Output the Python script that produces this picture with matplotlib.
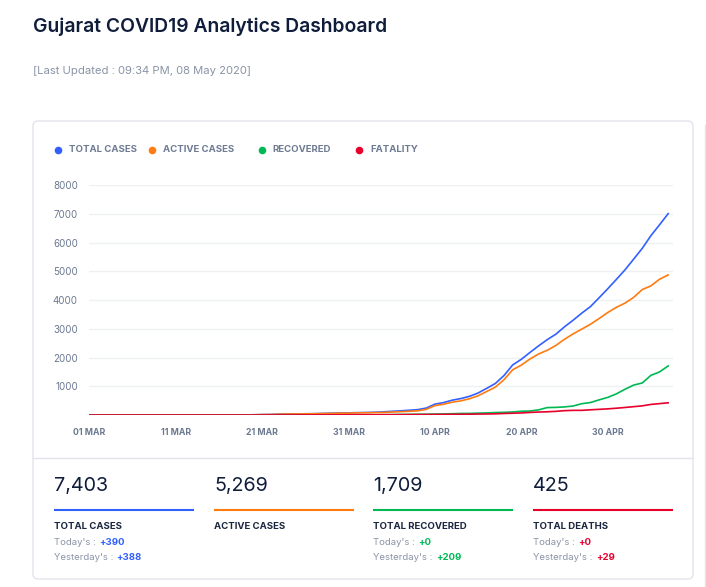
import matplotlib
matplotlib.use("Agg")
import matplotlib.pyplot as plt
from matplotlib.patches import FancyBboxPatch
import numpy as np

# ---------------- data ----------------
start_label = ["01 MAR", "11 MAR", "21 MAR", "31 MAR", "10 APR", "20 APR", "30 APR"]
tick_days = [0, 10, 20, 30, 40, 50, 60]

total_cases = [0]*18 + [
    2, 7, 14, 18, 30, 35, 38, 43, 47, 55, 63, 69, 73,
    82, 87, 95, 108, 128, 144, 165, 186, 241, 378, 432, 516, 572, 650, 766,
    929, 1099, 1376, 1743, 1939, 2178, 2407, 2624, 2815, 3071, 3301, 3548,
    3774, 4082, 4395,
    4721, 5054, 5428, 5804, 6245, 6625, 7013]
active_cases = [0]*18 + [
    2, 7, 14, 17, 29, 34, 36, 39, 42, 49, 57, 62, 66,
    74, 78, 82, 88, 103, 114, 129, 145, 198, 326, 374, 447, 492, 566, 669,
    820, 972, 1230, 1575, 1737, 1949, 2125, 2254, 2423, 2638, 2826, 2992,
    3159, 3358, 3568,
    3750, 3896, 4096, 4370, 4496, 4729, 4879]
recovered = [0]*18 + [
    0, 0, 0, 0, 0, 0, 0, 1, 1, 1, 1, 1, 1,
    1, 2, 5, 10, 14, 18, 22, 25, 26, 33, 36, 44, 54, 56, 64,
    73, 86, 93, 105, 131, 139, 179, 258, 265, 282, 313, 394,
    434, 527, 613,
    735, 896, 1042, 1115, 1381, 1500, 1709]
fatality = [0]*18 + [
    0, 0, 0, 1, 1, 1, 2, 3, 4, 5, 5, 6, 6,
    7, 7, 8, 10, 11, 12, 14, 16, 17, 19, 22, 25, 26, 28, 33,
    36, 41, 53, 63, 71, 90, 103, 112, 127, 151, 162, 162,
    181, 197, 214,
    236, 262, 290, 319, 368, 396, 425]

series_names = ["TOTAL CASES", "ACTIVE CASES", "RECOVERED", "FATALITY"]
series_colors = ["#3160ff", "#ff7b0f", "#00b955", "#e8002d"]

stat_values = ["7,403", "5,269", "1,709", "425"]
stat_labels = ["TOTAL CASES", "ACTIVE CASES", "TOTAL RECOVERED", "TOTAL DEATHS"]
stat_today = ["+390", None, "+0", "+0"]
stat_yesterday = ["+388", None, "+209", "+29"]

y_ticks = [1000, 2000, 3000, 4000, 5000, 6000, 7000, 8000]

# ---------------- figure ----------------
W, H = 706, 587
fig = plt.figure(figsize=(W/100, H/100), dpi=100)
fig.patch.set_facecolor("white")

bg = fig.add_axes([0, 0, 1, 1])
bg.set_xlim(0, W)
bg.set_ylim(H, 0)
bg.axis("off")

FONT = ["Inter", "DejaVu Sans"]
NAVY = "#0f1d3b"
GRAY = "#8a94a6"

bg.text(33, 27, "Gujarat COVID19 Analytics Dashboard", fontsize=13.9,
        fontweight="semibold", color=NAVY, va="center", ha="left", family=FONT)
bg.text(33, 71, "[Last Updated : 09:34 PM, 08 May 2020]", fontsize=8.1,
        color=GRAY, va="center", ha="left", family=FONT)

# card
card = FancyBboxPatch((33, 121), 660, 458, boxstyle="round,pad=0,rounding_size=5",
                      fc="white", ec="#e1e4ec", lw=1.0)
bg.add_patch(card)
bg.plot([33, 693], [457.5, 457.5], color="#e1e4ec", lw=1.0)
# neighbouring card edge
bg.plot([705, 705], [125, 587], color="#e1e4ec", lw=1.0)

# legend
dot_x = [57.7, 151.7, 261.7, 358.7]
txt_x = [69.3, 162.7, 272.3, 370]
for dx, tx, name, col in zip(dot_x, txt_x, series_names, series_colors):
    bg.scatter([dx], [149.5], s=20, color=col, zorder=3)
    bg.text(tx, 149.5, name, fontsize=6.9, fontweight="bold", color="#6e7b93",
            va="center", ha="left", family=FONT)

# stats
col_x = [54, 214, 373.3, 533.3]
for i, cx in enumerate(col_x):
    bg.text(cx, 486, stat_values[i], fontsize=14.2, color=NAVY,
            va="center", ha="left", family=FONT)
    bg.plot([cx, cx + 139.5], [510, 510], color=series_colors[i], lw=1.5,
            solid_capstyle="butt")
    bg.text(cx, 526.5, stat_labels[i], fontsize=6.9, fontweight="bold",
            color="#1b2740", va="center", ha="left", family=FONT)
    if stat_today[i] is not None:
        t1 = bg.text(cx, 542.5, "Today's :", fontsize=6.9, color=GRAY,
                     va="center", ha="left", family=FONT)
        bg.annotate(stat_today[i], xycoords=t1, xy=(1, 0.5), xytext=(2.2, 0),
                    textcoords="offset points", va="center",
                    ha="left", fontsize=6.9, fontweight="bold",
                    color=series_colors[i], family=FONT)
        t2 = bg.text(cx, 557, "Yesterday's :", fontsize=6.9, color=GRAY,
                     va="center", ha="left", family=FONT)
        bg.annotate(stat_yesterday[i], xycoords=t2, xy=(1, 0.5), xytext=(2.2, 0),
                    textcoords="offset points", va="center",
                    ha="left", fontsize=6.9, fontweight="bold",
                    color=series_colors[i], family=FONT)

# ---------------- chart ----------------
ax_left, ax_right, ax_top, ax_bot = 89.3, 673, 185.3, 415
ax = fig.add_axes([ax_left/W, 1 - ax_bot/H, (ax_right-ax_left)/W, (ax_bot-ax_top)/H])
ax.set_facecolor("none")
days = np.arange(len(total_cases))
all_series = [total_cases, active_cases, recovered, fatality]
for k, (vals, col) in enumerate(zip(all_series, series_colors)):
    ax.plot(days, vals, color=col, lw=1.2, zorder=3 + k, solid_joinstyle="round")

ax.set_xlim(0, (ax_right - ax_left) / 8.64)
ax.set_ylim(0, 8000)
ax.set_yticks(y_ticks)
ax.set_yticklabels([str(v) for v in y_ticks], fontsize=7, color="#6b7890", family=FONT)
ax.set_xticks(tick_days)
ax.set_xticklabels(start_label, fontsize=6.3, fontweight="bold", color="#6b7890", family=FONT)
for yv in [0] + y_ticks:
    ax.axhline(yv, color="#eef0f4", lw=1.0, zorder=1)
ax.tick_params(axis="both", length=0)
ax.tick_params(axis="y", pad=8.3)
ax.tick_params(axis="x", pad=9.5)
for s in ax.spines.values():
    s.set_visible(False)

fig.savefig("out.png", dpi=100, facecolor="white")
